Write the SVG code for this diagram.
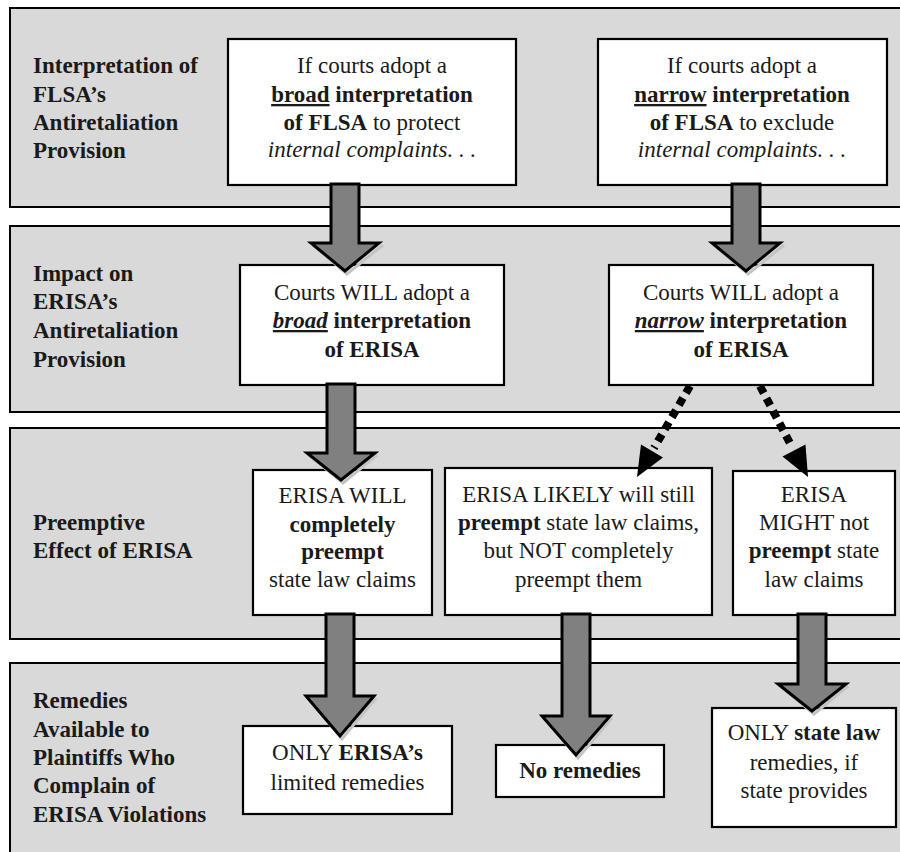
<svg xmlns="http://www.w3.org/2000/svg" width="900" height="852" viewBox="0 0 900 852">
<style>
.band{fill:#d9d9d9;stroke:#000;stroke-width:2}
.box{fill:#fff;stroke:#000;stroke-width:2.2}
text{font-family:"Liberation Serif","Times New Roman",serif;font-size:23px;fill:#1a1a1a}
.lbl{font-weight:bold}
.c{text-anchor:middle}
.b{font-weight:bold}
.i{font-style:italic}
.u{text-decoration:underline}
.arrow{fill:#808080;stroke:#000;stroke-width:3;stroke-linejoin:miter}
.shadow{fill:none;stroke:#c4c4c4;stroke-width:3}
.dot{fill:none;stroke:#000;stroke-width:8;stroke-dasharray:8 6}
.head{fill:#000}
</style>
<rect width="900" height="852" fill="#fff"/>
<g id="bands">
<g id="band1"><rect class="band" x="10" y="8" width="900" height="199"/>
<text class="lbl" x="33" y="73">Interpretation of</text>
<text class="lbl" x="33" y="102">FLSA’s</text>
<text class="lbl" x="33" y="130">Antiretaliation</text>
<text class="lbl" x="33" y="158">Provision</text></g>
<g id="band2"><rect class="band" x="10" y="226" width="900" height="186"/>
<text class="lbl" x="33" y="281">Impact on</text>
<text class="lbl" x="33" y="309">ERISA’s</text>
<text class="lbl" x="33" y="338">Antiretaliation</text>
<text class="lbl" x="33" y="367">Provision</text></g>
<g id="band3"><rect class="band" x="10" y="428" width="900" height="211"/>
<text class="lbl" x="33" y="530">Preemptive</text>
<text class="lbl" x="33" y="558">Effect of ERISA</text></g>
<g id="band4"><rect class="band" x="10" y="663" width="900" height="200"/>
<text class="lbl" x="33" y="708">Remedies</text>
<text class="lbl" x="33" y="737">Available to</text>
<text class="lbl" x="33" y="765">Plaintiffs Who</text>
<text class="lbl" x="33" y="793">Complain of</text>
<text class="lbl" x="33" y="822">ERISA Violations</text></g>
</g>
<g id="box1"><rect class="box" x="228" y="39" width="288" height="146"/>
<text class="c" x="372" y="73">If courts adopt a</text>
<text class="c" x="372" y="102"><tspan class="b u">broad</tspan><tspan class="b"> interpretation</tspan></text>
<text class="c" x="372" y="130"><tspan class="b">of FLSA</tspan> to protect</text>
<text class="c i" x="372" y="157">internal complaints. . .</text></g>
<g id="box2"><rect class="box" x="598" y="39" width="289" height="146"/>
<text class="c" x="742" y="73">If courts adopt a</text>
<text class="c" x="742" y="102"><tspan class="b u">narrow</tspan><tspan class="b"> interpretation</tspan></text>
<text class="c" x="742" y="130"><tspan class="b">of FLSA</tspan> to exclude</text>
<text class="c i" x="742" y="157">internal complaints. . .</text></g>
<g id="box3"><rect class="box" x="240" y="265" width="264" height="120"/>
<text class="c" x="372" y="300">Courts WILL adopt a</text>
<text class="c" x="372" y="328"><tspan class="b i u">broad</tspan><tspan class="b"> interpretation</tspan></text>
<text class="c b" x="372" y="357">of ERISA</text></g>
<g id="box4"><rect class="box" x="609" y="265" width="264" height="120"/>
<text class="c" x="741" y="300">Courts WILL adopt a</text>
<text class="c" x="741" y="328"><tspan class="b i u">narrow</tspan><tspan class="b"> interpretation</tspan></text>
<text class="c b" x="741" y="357">of ERISA</text></g>
<g id="box5"><rect class="box" x="253" y="470" width="179" height="145"/>
<text class="c" x="342.5" y="503">ERISA WILL</text>
<text class="c b" x="342.5" y="532">completely</text>
<text class="c b" x="342.5" y="559">preempt</text>
<text class="c" x="342.5" y="587">state law claims</text></g>
<g id="box6"><rect class="box" x="445" y="468" width="267" height="147"/>
<text class="c" x="578.5" y="502">ERISA LIKELY will still</text>
<text class="c" x="578.5" y="530"><tspan class="b">preempt</tspan> state law claims,</text>
<text class="c" x="578.5" y="558">but NOT completely</text>
<text class="c" x="578.5" y="587">preempt them</text></g>
<g id="box7"><rect class="box" x="733" y="471" width="162" height="144"/>
<text class="c" x="814" y="502">ERISA</text>
<text class="c" x="814" y="530">MIGHT not</text>
<text class="c" x="814" y="558"><tspan class="b">preempt</tspan> state</text>
<text class="c" x="814" y="587">law claims</text></g>
<g id="box8"><rect class="box" x="243" y="726" width="209" height="88"/>
<text class="c" x="347.5" y="760">ONLY <tspan class="b">ERISA’s</tspan></text>
<text class="c" x="347.5" y="790">limited remedies</text></g>
<g id="box9"><rect class="box" x="496" y="745" width="168" height="52"/>
<text class="c b" x="580" y="778">No remedies</text></g>
<g id="box10"><rect class="box" x="712" y="708" width="184" height="119"/>
<text class="c" x="804" y="740">ONLY <tspan class="b">state law</tspan></text>
<text class="c" x="804" y="770">remedies, if</text>
<text class="c" x="804" y="798">state provides</text></g>
<g id="connectors">
<polyline class="shadow" points="313,245 347,274 383,245"/>
<polygon class="arrow" points="331,184 359,184 359,243 379,243 345,271 311,243 331,243"/>
<polyline class="shadow" points="714,245 748,274 784,245"/>
<polygon class="arrow" points="732,184 760,184 760,243 780,243 746,271 712,243 732,243"/>
<polyline class="shadow" points="309,455 343,483 377,455"/>
<polygon class="arrow" points="327,384 355,384 355,453 375,453 341,480 307,453 327,453"/>
<polyline class="shadow" points="308,698 342,739 376,698"/>
<polygon class="arrow" points="326,614 354,614 354,696 374,696 340,736 306,696 326,696"/>
<polyline class="shadow" points="544,718 578,758 612,718"/>
<polygon class="arrow" points="562,614 590,614 590,716 610,716 576,755 542,716 562,716"/>
<polyline class="shadow" points="780,686 814,714 848,686"/>
<polygon class="arrow" points="798,614 826,614 826,684 846,684 812,711 778,684 798,684"/>
<line class="dot" x1="690" y1="386" x2="654" y2="448"/>
<polygon class="head" points="637,477 663,457.5 641,444.5"/>
<line class="dot" x1="760" y1="386" x2="792" y2="447"/>
<polygon class="head" points="808,477 805.5,444.4 782.5,456.4"/>
</g>
</svg>
